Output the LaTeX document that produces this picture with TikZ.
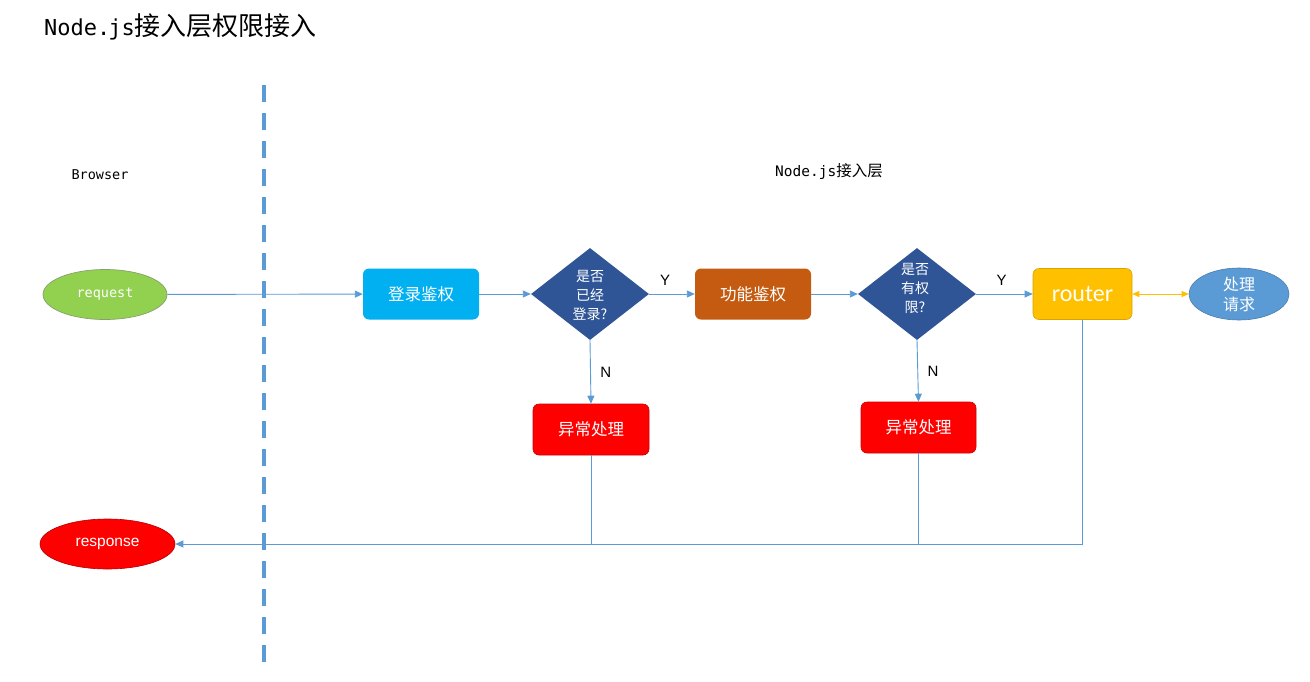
\documentclass[tikz,border=0pt]{standalone}
\usepackage{fontspec}
\setmainfont{Noto Sans CJK SC}
\newfontfamily\cjk{Noto Sans CJK SC}
\newfontfamily\monof{DejaVu Sans Mono}
\newfontfamily\arialf{Liberation Sans}
\newfontfamily\carlf{Carlito}
\usetikzlibrary{shapes.geometric,arrows.meta}
\definecolor{lineblue}{HTML}{5B9BD5}
\definecolor{dashblue}{HTML}{5B9BD5}
\definecolor{reqgreen}{HTML}{92D050}
\definecolor{loginblue}{HTML}{00B0F0}
\definecolor{diamblue}{HTML}{2F5597}
\definecolor{funcorange}{HTML}{C55A11}
\definecolor{routeryellow}{HTML}{FFC000}
\definecolor{procblue}{HTML}{5B9BD5}
\definecolor{errred}{HTML}{FF0000}
\begin{document}
\begin{tikzpicture}[x=1pt,y=-1pt,
  conn/.style={draw=lineblue,line width=0.9pt},
  arr/.style={conn,-{Triangle[length=8pt,width=7pt]}},
  boxnode/.style={rounded corners=6pt,minimum width=116pt,minimum height=51pt,text=white,font=\cjk\fontsize{16.5}{18}\selectfont,inner sep=0pt},
  dnode/.style={diamond,aspect=1.2826,minimum width=118pt,minimum height=92pt,inner sep=0pt,fill=diamblue},
  dtext/.style={text=white,font=\cjk\fontsize{14}{19}\selectfont,align=center,inner sep=0pt},
  lbl/.style={font=\arialf\fontsize{15}{16}\selectfont},
]
\useasboundingbox (0,0) rectangle (1310,681);
\fill[white] (0,0) rectangle (1310,681);

% titles
\node[anchor=west,inner sep=0pt] (title) at (44,27) {\monof\fontsize{22}{24}\selectfont Node.\hspace{-2pt}js\cjk\fontsize{26}{28}\selectfont 接入层权限接入};
\node[inner sep=0pt] (browser) at (100,175) {\monof\fontsize{13.5}{16}\selectfont Browser};
\node[inner sep=0pt] (layer) at (829,172) {\monof\fontsize{14.5}{16}\selectfont Node.js\cjk\fontsize{15.5}{16}\selectfont 接入层};

% dashed separator
\coordinate (dtop) at (264,85);
\coordinate (dbot) at (264,662);
\draw[dashblue,line width=3.5pt,dash pattern=on 17pt off 11pt] (dtop) -- (dbot);

% nodes
\node[ellipse,minimum width=124pt,minimum height=50pt,fill=reqgreen,draw=gray!60!reqgreen,line width=0.7pt,text=white,inner sep=0pt] (req) at (105,294.5) {\monof\fontsize{13.5}{16}\selectfont request};
\node[boxnode,fill=loginblue] (login) at (421,294) {登录鉴权};
\node[dnode] (d1) at (590,294) {};
\node[dtext] (d1t) at (590,295) {是否\\已经\\登录?};
\node[boxnode,fill=funcorange] (func) at (753,294) {功能鉴权};
\node[dnode] (d2) at (917,294) {};
\node[dtext] (d2t) at (915,288) {是否\\有权\\限?};
\node[rounded corners=6pt,minimum width=99pt,minimum height=51pt,fill=routeryellow,draw=routeryellow!85!black,line width=0.6pt,text=white,inner sep=0pt] (router) at (1082.5,294) {\carlf\fontsize{24}{26}\selectfont router};
\node[ellipse,minimum width=100pt,minimum height=52pt,fill=procblue,draw=procblue!80!black,line width=0.6pt,text=white,inner sep=0pt,align=center,font=\cjk\fontsize{16}{20}\selectfont] (proc) at (1239,294) {处理\\请求};
\node[boxnode,fill=errred,draw=errred!80!black,line width=0.6pt] (err1) at (591,429.5) {异常处理};
\node[boxnode,fill=errred,draw=errred!80!black,line width=0.6pt,minimum width=115pt] (err2) at (918.5,427.5) {异常处理};
\node[ellipse,minimum width=135pt,minimum height=50pt,fill=errred,draw=errred!70!black,line width=0.6pt,text=white,inner sep=0pt] (resp) at (107.5,544) {\raisebox{-2pt}{\arialf\fontsize{15.5}{16}\selectfont response}};

% connectors
\draw[arr] (req) -- (login);
\draw[arr] (login) -- (d1);
\draw[arr] (d1) -- node[lbl,above=5pt,pos=0.35] (ylab1) {Y} (func);
\draw[arr] (func) -- (d2);
\draw[arr] (d2) -- node[lbl,above=5pt,pos=0.45] (ylab2) {Y} (router);
\draw[arr] (d1.south) -- node[lbl,right=6pt,pos=0.5] (nlab1) {N} (err1.north);
\draw[arr] (d2.south) -- node[lbl,right=6pt,pos=0.5] (nlab2) {N} (err2.north);
\draw[draw=routeryellow,line width=0.9pt,{Triangle[length=7pt,width=6pt]}-{Triangle[length=7pt,width=6pt]}] (router) -- (proc);

\coordinate (j1) at (591,544);
\coordinate (j2) at (918.5,544);
\coordinate (j3) at (1082.5,544);
\draw[conn] (err1.south) -- (j1);
\draw[conn] (err2.south) -- (j2);
\draw[conn] (router.south) -- (j3);
\draw[arr] (j3) -- (resp.east);
\end{tikzpicture}
\end{document}
